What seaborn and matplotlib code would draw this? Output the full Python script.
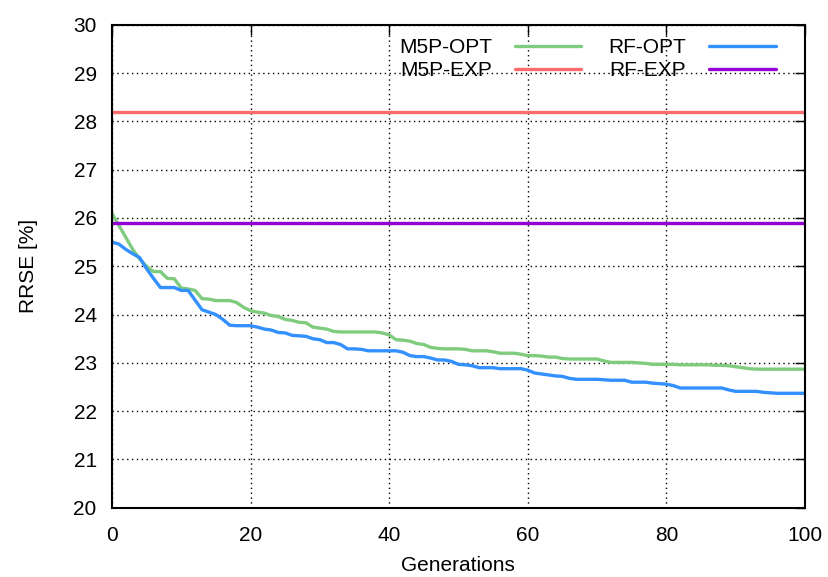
import numpy as np
import pandas as pd
import matplotlib
matplotlib.use("Agg")
import matplotlib.pyplot as plt
import seaborn as sns

# -----------------------------
# Data
# -----------------------------
generations = list(range(0, 101))

m5p_opt = [26.10, 25.85, 25.60, 25.35, 25.15, 25.00, 24.89, 24.89, 24.75, 24.74,
           24.55, 24.53, 24.50, 24.33, 24.32, 24.29, 24.29, 24.29, 24.25, 24.15,
           24.08, 24.05, 24.03, 23.98, 23.96, 23.90, 23.88, 23.84, 23.83, 23.74,
           23.72, 23.70, 23.65, 23.64, 23.64, 23.64, 23.64, 23.64, 23.64, 23.62,
           23.58, 23.48, 23.47, 23.45, 23.40, 23.38, 23.32, 23.30, 23.29, 23.29,
           23.29, 23.28, 23.25, 23.25, 23.25, 23.23, 23.20, 23.20, 23.20, 23.18,
           23.15, 23.15, 23.14, 23.12, 23.12, 23.09, 23.08, 23.08, 23.08, 23.08,
           23.08, 23.04, 23.01, 23.01, 23.01, 23.01, 23.00, 22.99, 22.97, 22.97,
           22.97, 22.97, 22.96, 22.96, 22.96, 22.96, 22.96, 22.95, 22.95, 22.94,
           22.92, 22.90, 22.88, 22.87, 22.87, 22.87, 22.87, 22.87, 22.87, 22.87,
           22.87]

rf_opt = [25.50, 25.46, 25.35, 25.26, 25.18, 24.95, 24.75, 24.56, 24.56, 24.56,
          24.50, 24.50, 24.30, 24.10, 24.05, 24.00, 23.90, 23.78, 23.77, 23.77,
          23.77, 23.74, 23.70, 23.68, 23.63, 23.62, 23.57, 23.56, 23.55, 23.50,
          23.48, 23.42, 23.42, 23.38, 23.29, 23.29, 23.28, 23.25, 23.25, 23.25,
          23.25, 23.25, 23.22, 23.15, 23.13, 23.13, 23.10, 23.06, 23.06, 23.03,
          22.97, 22.96, 22.94, 22.90, 22.90, 22.90, 22.88, 22.88, 22.88, 22.88,
          22.85, 22.79, 22.77, 22.75, 22.73, 22.72, 22.68, 22.66, 22.66, 22.66,
          22.66, 22.65, 22.64, 22.64, 22.64, 22.60, 22.60, 22.60, 22.58, 22.57,
          22.56, 22.53, 22.48, 22.48, 22.48, 22.48, 22.48, 22.48, 22.48, 22.44,
          22.41, 22.41, 22.41, 22.41, 22.39, 22.38, 22.37, 22.37, 22.37, 22.37,
          22.37]

m5p_exp = 28.2
rf_exp = 25.9

df = pd.DataFrame({"gen": generations, "m5p_opt": m5p_opt, "rf_opt": rf_opt})
df["m5p_exp"] = m5p_exp
df["rf_exp"] = rf_exp

# -----------------------------
# Plot
# -----------------------------
sns.set_style("white")
plt.rcParams["font.family"] = ["Liberation Sans", "DejaVu Sans"]
plt.rcParams["text.color"] = "black"
plt.rcParams["axes.labelcolor"] = "black"

fig, ax = plt.subplots(figsize=(8.29, 5.77), dpi=100)
fig.subplots_adjust(left=0.135, right=0.971, top=0.957, bottom=0.120)

lw = 2.4
sns.lineplot(x="gen", y="m5p_opt", data=df, ax=ax, color="#7fcc7f", lw=lw, label="M5P-OPT")
sns.lineplot(x="gen", y="m5p_exp", data=df, ax=ax, color="#ff6b6b", lw=lw, label="M5P-EXP")
sns.lineplot(x="gen", y="rf_opt", data=df, ax=ax, color="#3390ff", lw=lw, label="RF-OPT")
sns.lineplot(x="gen", y="rf_exp", data=df, ax=ax, color="#9400d3", lw=lw, label="RF-EXP")

ax.set_xlim(0, 100)
ax.set_ylim(20, 30)
ax.set_xticks(range(0, 101, 20))
ax.set_yticks(range(20, 31, 1))
ax.set_xlabel("Generations", fontsize=15, color="black")
ax.set_ylabel("RRSE [%]", fontsize=15, color="black")
ax.xaxis.set_label_coords(0.5, -0.099)
ax.yaxis.set_label_coords(-0.107, 0.5)
ax.tick_params(direction="in", length=7, width=1, top=True, right=True,
               labelsize=15, colors="black", pad=11)
ax.tick_params(axis="x", pad=13)
ax.grid(True, linestyle=(0, (1, 2.5)), color="black", lw=1)
for s in ax.spines.values():
    s.set_color("black")
    s.set_linewidth(1.5)

handles, labels = ax.get_legend_handles_labels()
ax.legend(handles, labels, ncol=2, loc="upper right", frameon=False,
          markerfirst=False, fontsize=15, handlelength=3.2, handletextpad=1.1,
          columnspacing=1.3, labelspacing=0.2, borderaxespad=0.0,
          bbox_to_anchor=(0.97, 0.99), labelcolor="black")

plt.savefig("out.png", dpi=100)
plt.close()
